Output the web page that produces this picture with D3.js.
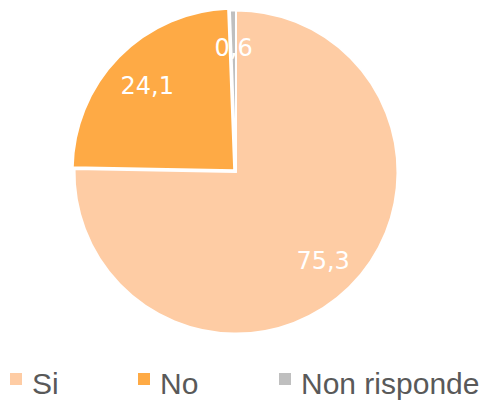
<!DOCTYPE html>
<html>
<head>
<meta charset="utf-8">
<script src="https://cdn.jsdelivr.net/npm/d3@7"></script>
<style>
  html, body { margin: 0; padding: 0; background: #fff; }
  svg { display: block; }
</style>
</head>
<body>
<svg id="chart" width="494" height="402"></svg>
<script>
const categories = ["Si", "No", "Non risponde"];
const values = [75.3, 24.1, 0.6];
const labels = ["75,3", "24,1", "0,6"];
const colors = ["#FECCA4", "#FEAA45", "#BFBFBF"];
const explode = [0, 2.5, 0];

const svg = d3.select("#chart");
const cx = 236, cy = 172, R = 161.5;

const pie = d3.pie().sort(null).value(d => d.v);
const data = categories.map((c, i) => ({ c, v: values[i], l: labels[i], col: colors[i], ex: explode[i] }));
const arcs = pie(data);
const arc = d3.arc().innerRadius(0).outerRadius(R);
const labelArc = d3.arc().innerRadius(R * 0.77).outerRadius(R * 0.77);

const g = svg.append("g").attr("transform", `translate(${cx},${cy})`);

g.selectAll("path.slice").data(arcs).join("path")
  .attr("class", "slice")
  .attr("d", arc)
  .attr("fill", d => d.data.col)
  .attr("stroke", "#fff")
  .attr("stroke-width", 2)
  .attr("stroke-linejoin", "round")
  .attr("transform", d => {
    const a = (d.startAngle + d.endAngle) / 2;
    return `translate(${Math.sin(a) * d.data.ex},${-Math.cos(a) * d.data.ex})`;
  });

g.selectAll("text.lbl").data(arcs).join("text")
  .attr("class", "lbl")
  .attr("transform", d => { const [x, y] = labelArc.centroid(d); return `translate(${x},${y})`; })
  .attr("text-anchor", "middle")
  .attr("dy", "0.36em")
  .attr("fill", "#fff")
  .style("font-family", "'DejaVu Sans', sans-serif")
  .style("font-size", "24px")
  .text(d => d.data.l);

// Legend
const legendX = d3.scaleOrdinal().domain(categories).range([10, 138, 279]);
const lg = svg.append("g");
const items = lg.selectAll("g").data(data).join("g")
  .attr("transform", d => `translate(${legendX(d.c)},373)`);
items.append("rect").attr("width", 12).attr("height", 12).attr("fill", d => d.col);
items.append("text")
  .attr("x", 22).attr("y", 20.5)
  .attr("fill", "#595959")
  .style("font-family", "'Liberation Sans', Arial, sans-serif")
  .style("font-size", "30px")
  .text(d => d.c);
</script>
</body>
</html>
